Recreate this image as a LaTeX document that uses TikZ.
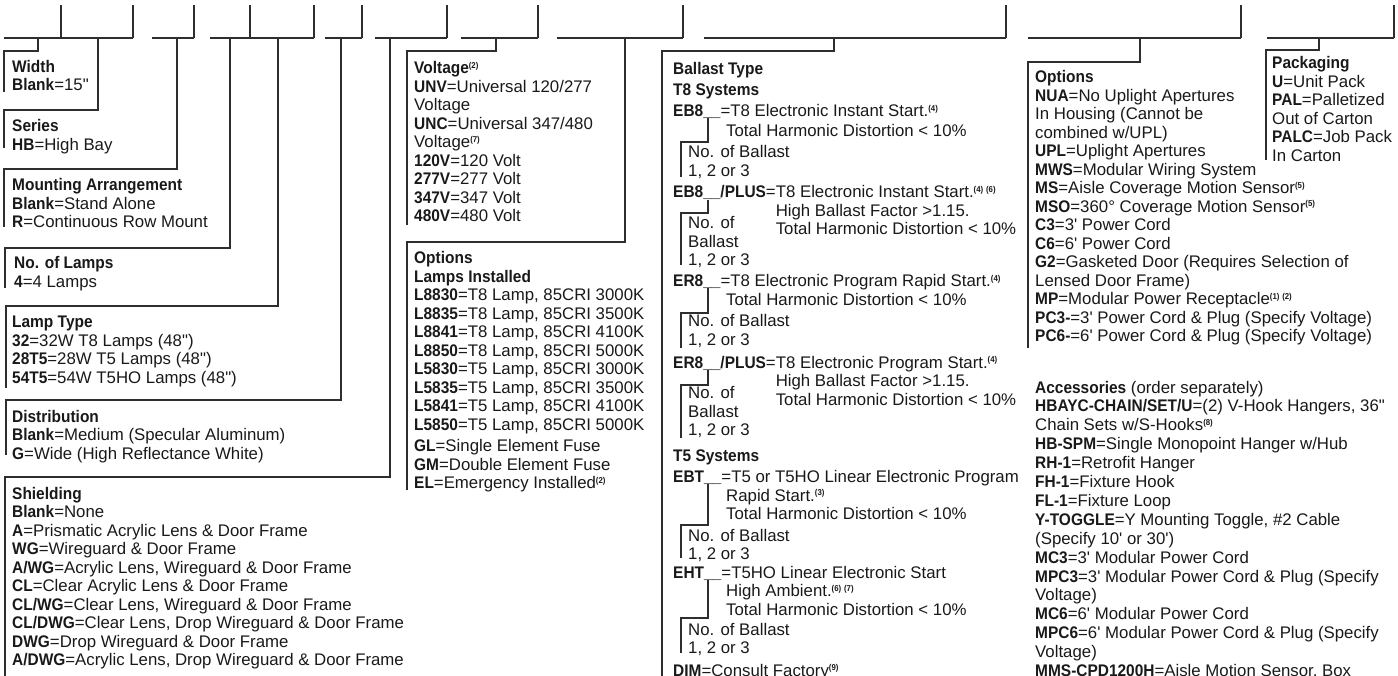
\documentclass[tikz,border=0pt]{standalone}
\usepackage{fontspec}
\setmainfont{Liberation Sans}[BoldFeatures={FakeStretch=0.92}]
\newcommand\B[1]{\textbf{#1}}
\newcommand\fn[1]{\smash{\raisebox{5.5pt}{\fontsize{8.5}{8.5}\selectfont\bfseries(#1)}}}
\newcommand\q{\textquotesingle}
\newcommand\qq{\textquotedbl}
\newcommand\blk[1]{\begin{tabular}[t]{@{}l@{}}#1\end{tabular}}
\begin{document}
\begin{tikzpicture}[x=1pt,y=-1pt,
  ln/.style={line width=1.2pt, draw=black!82},
  txt/.style={anchor=base west, inner sep=0pt, text=black!90, font=\fontsize{16.8}{18.5}\selectfont}]
\useasboundingbox (0,0) rectangle (1398,676);
% top ticks
\foreach \x in {61,133,194,250,314,362,447,538,683,1006,1241,1394} \draw[ln] (\x,5) -- (\x,38);
% top horizontals
\foreach \a/\b in {4/133,152/194,210/314,325/362,375/447,461/538,557/683,704/1006,1028/1241,1267/1394}
  \draw[ln] (\a,38) -- (\b,38);
% left column connectors
\draw[ln] (38,38) -- (38,51) -- (4,51) -- (4,92);
\draw[ln] (98,38) -- (98,110) -- (4,110) -- (4,148);
\draw[ln] (177,38) -- (177,169) -- (4,169) -- (4,227);
\draw[ln] (230,38) -- (230,248) -- (5,248) -- (5,288);
\draw[ln] (278,38) -- (278,306) -- (6,306) -- (6,388);
\draw[ln] (341,38) -- (341,400) -- (6,400) -- (6,455);
\draw[ln] (390,38) -- (390,477) -- (5,477) -- (5,680);
% voltage / options
\draw[ln] (496,38) -- (496,51) -- (407,51) -- (407,225);
\draw[ln] (625,38) -- (625,242) -- (407,242) -- (407,490);
% ballast
\draw[ln] (834,38) -- (834,51) -- (662,51) -- (662,680);
\draw[ln] (708,118) -- (708,142) -- (681,142) -- (681,177);
\draw[ln] (708,200) -- (708,213) -- (681,213) -- (681,265);
\draw[ln] (708,288) -- (708,313) -- (681,313) -- (681,348);
\draw[ln] (708,370) -- (708,385) -- (681,385) -- (681,438);
\draw[ln] (708,484) -- (708,525) -- (681,525) -- (681,558);
\draw[ln] (708,580) -- (708,618) -- (681,618) -- (681,653);
% options / packaging
\draw[ln] (1140,38) -- (1140,62) -- (1028,62) -- (1028,348);
\draw[ln] (1319,38) -- (1319,50) -- (1266,50) -- (1266,160);

% left column texts
\node[txt] (width) at (12,72.5) {\blk{\B{Width}\\ \B{Blank}=15\qq}};
\node[txt] (series) at (12,132) {\blk{\B{Series}\\ \B{HB}=High Bay}};
\node[txt] (mount) at (12,191) {\blk{\B{Mounting Arrangement}\\ \B{Blank}=Stand Alone\\ \B{R}=Continuous Row Mount}};
\node[txt] (nlamps) at (14,269) {\blk{\B{No. of Lamps}\\ \B{4}=4 Lamps}};
\node[txt] (ltype) at (12,328) {\blk{\B{Lamp Type}\\ \B{32}=32W T8 Lamps (48\qq)\\ \B{28T5}=28W T5 Lamps (48\qq)\\ \B{54T5}=54W T5HO Lamps (48\qq)}};
\node[txt] (dist) at (12,422) {\blk{\B{Distribution}\\ \B{Blank}=Medium (Specular Aluminum)\\ \B{G}=Wide (High Reflectance White)}};
\node[txt] (shield) at (12,499) {\blk{\B{Shielding}\\ \B{Blank}=None\\ \B{A}=Prismatic Acrylic Lens \& Door Frame\\ \B{WG}=Wireguard \& Door Frame\\ \B{A/WG}=Acrylic Lens, Wireguard \& Door Frame\\ \B{CL}=Clear Acrylic Lens \& Door Frame\\ \B{CL/WG}=Clear Lens, Wireguard \& Door Frame\\ \B{CL/DWG}=Clear Lens, Drop Wireguard \& Door Frame\\ \B{DWG}=Drop Wireguard \& Door Frame\\ \B{A/DWG}=Acrylic Lens, Drop Wireguard \& Door Frame}};

% voltage / options
\node[txt] (volt) at (414,74) {\blk{\B{Voltage}\fn{2}\\ \B{UNV}=Universal 120/277\\ Voltage\\ \B{UNC}=Universal 347/480\\ Voltage\fn{7}\\ \B{120V}=120 Volt\\ \B{277V}=277 Volt\\ \B{347V}=347 Volt\\ \B{480V}=480 Volt}};
\node[txt] (lamps) at (414,264) {\blk{\B{Options}\\ \B{Lamps Installed}\\ \B{L8830}=T8 Lamp, 85CRI 3000K\\ \B{L8835}=T8 Lamp, 85CRI 3500K\\ \B{L8841}=T8 Lamp, 85CRI 4100K\\ \B{L8850}=T8 Lamp, 85CRI 5000K\\ \B{L5830}=T5 Lamp, 85CRI 3000K\\ \B{L5835}=T5 Lamp, 85CRI 3500K\\ \B{L5841}=T5 Lamp, 85CRI 4100K\\ \B{L5850}=T5 Lamp, 85CRI 5000K\\[3pt] \B{GL}=Single Element Fuse\\ \B{GM}=Double Element Fuse\\ \B{EL}=Emergency Installed\fn{2}}};

% ballast
\node[txt] (bt) at (673,75) {\B{Ballast Type}};
\node[txt] (t8) at (673,96) {\B{T8 Systems}};
\node[txt] (eb8) at (673,117) {\B{EB8\_\_}=T8 Electronic Instant Start.\fn{4}};
\node[txt] (eb8t) at (726,136.5) {Total Harmonic Distortion < 10\%};
\node[txt] (eb8n) at (688,158) {\blk{No. of Ballast\\ 1, 2 or 3}};
\node[txt] (eb8p) at (673,198) {\blk{\B{EB8\_\_/PLUS}=T8 Electronic Instant Start.\fn{4}\,\fn{6}\\ \hphantom{\B{EB8\_\_/PLUS}=}High Ballast Factor >1.15.\\ \hphantom{\B{EB8\_\_/PLUS}=}Total Harmonic Distortion < 10\%}};
\node[txt] (eb8pn) at (688,229) {\blk{No. of\\ Ballast\\ 1, 2 or 3}};
\node[txt] (er8) at (673,287) {\B{ER8\_\_}=T8 Electronic Program Rapid Start.\fn{4}};
\node[txt] (er8t) at (726,306) {Total Harmonic Distortion < 10\%};
\node[txt] (er8n) at (688,327) {\blk{No. of Ballast\\ 1, 2 or 3}};
\node[txt] (er8p) at (673,368) {\blk{\B{ER8\_\_/PLUS}=T8 Electronic Program Start.\fn{4}\\ \hphantom{\B{ER8\_\_/PLUS}=}High Ballast Factor >1.15.\\ \hphantom{\B{ER8\_\_/PLUS}=}Total Harmonic Distortion < 10\%}};
\node[txt] (er8pn) at (688,399) {\blk{No. of\\ Ballast\\ 1, 2 or 3}};
\node[txt] (t5) at (673,461) {\B{T5 Systems}};
\node[txt] (ebt) at (673,482) {\B{EBT\_\_}=T5 or T5HO Linear Electronic Program};
\node[txt] (ebtt) at (726,501) {\blk{Rapid Start.\fn{3}\\ Total Harmonic Distortion < 10\%}};
\node[txt] (ebtn) at (688,541) {\blk{No. of Ballast\\ 1, 2 or 3}};
\node[txt] (eht) at (673,578) {\B{EHT\_\_}=T5HO Linear Electronic Start};
\node[txt] (ehtt) at (726,596.5) {\blk{High Ambient.\fn{6}\,\fn{7}\\ Total Harmonic Distortion < 10\%}};
\node[txt] (ehtn) at (688,635) {\blk{No. of Ballast\\ 1, 2 or 3}};
\node[txt] (dim) at (673,676) {\B{DIM}=Consult Factory\fn{9}};

% options
\node[txt] (opt) at (1035,83) {\blk{\B{Options}\\ \B{NUA}=No Uplight Apertures\\ In Housing (Cannot be\\ combined w/UPL)\\ \B{UPL}=Uplight Apertures\\ \B{MWS}=Modular Wiring System\\ \B{MS}=Aisle Coverage Motion Sensor\fn{5}\\ \B{MSO}=360° Coverage Motion Sensor\fn{5}\\ \B{C3}=3\q{} Power Cord\\ \B{C6}=6\q{} Power Cord\\ \B{G2}=Gasketed Door (Requires Selection of\\ Lensed Door Frame)\\ \B{MP}=Modular Power Receptacle\fn{1}\,\fn{2}\\ \B{PC3-}=3\q{} Power Cord \& Plug (Specify Voltage)\\ \B{PC6-}=6\q{} Power Cord \& Plug (Specify Voltage)}};
\node[txt] (pack) at (1272,69) {\blk{\B{Packaging}\\ \B{U}=Unit Pack\\ \B{PAL}=Palletized\\ Out of Carton\\ \B{PALC}=Job Pack\\ In Carton}};
\node[txt, font=\fontsize{16.8}{18.9}\selectfont] (acc) at (1035,393) {\blk{\B{Accessories} (order separately)\\ \B{HBAYC-CHAIN/SET/U}=(2) V-Hook Hangers, 36\qq\\ Chain Sets w/S-Hooks\fn{8}\\ \B{HB-SPM}=Single Monopoint Hanger w/Hub\\ \B{RH-1}=Retrofit Hanger\\ \B{FH-1}=Fixture Hook\\ \B{FL-1}=Fixture Loop\\ \B{Y-TOGGLE}=Y Mounting Toggle, \#2 Cable\\ (Specify 10\q{} or 30\q{})\\ \B{MC3}=3\q{} Modular Power Cord\\ \B{MPC3}=3\q{} Modular Power Cord \& Plug (Specify\\ Voltage)\\ \B{MC6}=6\q{} Modular Power Cord\\ \B{MPC6}=6\q{} Modular Power Cord \& Plug (Specify\\ Voltage)\\ \B{MMS-CPD1200H}=Aisle Motion Sensor, Box}};
\end{tikzpicture}
\end{document}
